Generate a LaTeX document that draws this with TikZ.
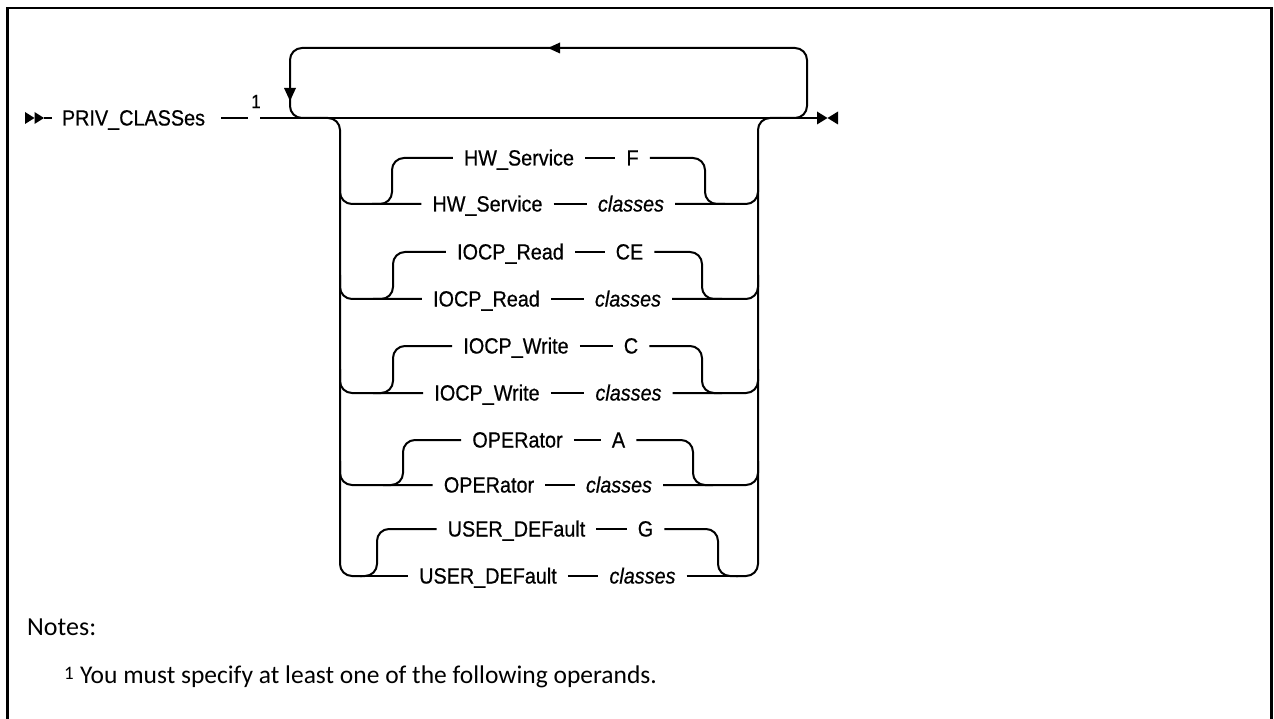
\documentclass[tikz,border=0pt]{standalone}
\usepackage{fontspec}
\setmainfont{Liberation Sans}
\newfontfamily\diagfont[FakeStretch=0.9,FakeBold=0.6]{Liberation Sans}
\newfontfamily\notefont{Carlito}
\begin{document}
\begin{tikzpicture}[x=1pt,y=-1pt,
  ln/.style={line width=2pt},
  rr/.style={line width=2pt, rounded corners=12pt},
  kw/.style={inner xsep=11pt, inner ysep=0pt, text height=15pt, text depth=0pt, font=\diagfont\fontsize{22}{26}\selectfont},
  val/.style={kw, font=\diagfont\fontsize{22}{26}\selectfont\itshape},
  frame/.style={line width=2.5pt}]
\useasboundingbox (0,0) rectangle (1274,719);
% frame
\draw[frame] (7.5,719) -- (7.5,8) -- (1271.5,8) -- (1271.5,719);

% start
\coordinate (s0) at (25,118);
\coordinate (s1) at (34.5,118);
\coordinate (s2) at (44,118);
\fill (25,112) -- (s1) -- (25,124) -- cycle;
\fill (34.5,112) -- (s2) -- (34.5,124) -- cycle;
\node[kw, inner xsep=10pt] (priv) at (133.5,118) {PRIV\_CLASSes};
\draw[ln] (s2) -- (priv.west);
\coordinate (n1l) at (248,118);
\coordinate (n1r) at (260,118);
\node[font=\diagfont\fontsize{19}{21}\selectfont, inner sep=0pt] (one) at (256,101.5) {1};
\draw[ln] ([xshift=6pt]priv.east) -- (n1l);
\coordinate (endm) at (817,118);
\draw[ln] (n1r) -- (endm);
% end marker
\coordinate (emid) at (827.5,118);
\fill (817,111.5) -- (emid) -- (817,124.5) -- cycle;
\fill (838,111.5) -- (emid) -- (838,124.5) -- cycle;

% repeat loop
\coordinate (lpr) at (780,118);
\coordinate (lpl) at (320,118);
\draw[rr] (lpr) -- (807,118) -- (807,48) -- (290,48) -- (290,118) -- (lpl);
\fill (548,48) -- (560,42.5) -- (560,53.5) -- cycle;
\fill (290,101) -- (284,88) -- (296,88) -- cycle;

% choice verticals
\coordinate (cl) at (320,118);
\coordinate (cr) at (780,118);
\draw[rr] (cl) -- (340,118) -- (340,576) -- (362,576);
\draw[rr] (736,576) -- (758,576) -- (758,118) -- (cr);

% ---- HW_Service ----
\node[kw]  (hwtk) at (519,158)   {HW\_Service};
\node[kw]  (hwtv) at (632.5,158) {F};
\node[kw]  (hwbk) at (487.5,204) {HW\_Service};
\node[val] (hwbv) at (631,204)   {classes};
\draw[rr] (340,180) -- (340,204) -- (hwbk.west);
\draw[ln] (hwbk.east) -- (hwbv.west);
\draw[rr] (hwbv.east) -- (758,204) -- (758,180);
\draw[rr] (372,204) -- (392,204) -- (392,158) -- (hwtk.west);
\draw[ln] (hwtk.east) -- (hwtv.west);
\draw[rr] (hwtv.east) -- (705,158) -- (705,204) -- (725,204);

% ---- IOCP_Read ----
\node[kw]  (irtk) at (510.5,252) {IOCP\_Read};
\node[kw]  (irtv) at (629.5,252) {CE};
\node[kw]  (irbk) at (486.5,299) {IOCP\_Read};
\node[val] (irbv) at (628,299)   {classes};
\draw[rr] (340,275) -- (340,299) -- (irbk.west);
\draw[ln] (irbk.east) -- (irbv.west);
\draw[rr] (irbv.east) -- (758,299) -- (758,275);
\draw[rr] (373,299) -- (393,299) -- (393,252) -- (irtk.west);
\draw[ln] (irtk.east) -- (irtv.west);
\draw[rr] (irtv.east) -- (702,252) -- (702,299) -- (722,299);

% ---- IOCP_Write ----
\node[kw]  (iwtk) at (516,346)   {IOCP\_Write};
\node[kw]  (iwtv) at (631,346)   {C};
\node[kw]  (iwbk) at (487,393)   {IOCP\_Write};
\node[val] (iwbv) at (628.5,393) {classes};
\draw[rr] (340,369) -- (340,393) -- (iwbk.west);
\draw[ln] (iwbk.east) -- (iwbv.west);
\draw[rr] (iwbv.east) -- (758,393) -- (758,369);
\draw[rr] (373,393) -- (393,393) -- (393,346) -- (iwtk.west);
\draw[ln] (iwtk.east) -- (iwtv.west);
\draw[rr] (iwtv.east) -- (702,346) -- (702,393) -- (722,393);

% ---- OPERator ----
\node[kw]  (optk) at (517.5,440) {OPERator};
\node[kw]  (optv) at (618.5,440) {A};
\node[kw]  (opbk) at (489,485)   {OPERator};
\node[val] (opbv) at (619,485)   {classes};
\draw[rr] (340,461) -- (340,485) -- (opbk.west);
\draw[ln] (opbk.east) -- (opbv.west);
\draw[rr] (opbv.east) -- (758,485) -- (758,461);
\draw[rr] (383,485) -- (403,485) -- (403,440) -- (optk.west);
\draw[ln] (optk.east) -- (optv.west);
\draw[rr] (optv.east) -- (693,440) -- (693,485) -- (713,485);

% ---- USER_DEFault ----
\node[kw]  (ustk) at (516.5,529) {USER\_DEFault};
\node[kw]  (ustv) at (645.5,529) {G};
\node[kw]  (usbk) at (488,576)   {USER\_DEFault};
\node[val] (usbv) at (642.5,576) {classes};
\draw[ln] (362,576) -- (usbk.west);
\draw[ln] (usbk.east) -- (usbv.west);
\draw[ln] (usbv.east) -- (736,576);
\draw[rr] (360,576) -- (377,576) -- (377,529) -- (ustk.west);
\draw[ln] (ustk.east) -- (ustv.west);
\draw[rr] (ustv.east) -- (718,529) -- (718,576) -- (738,576);

% notes
\node[anchor=base west, inner sep=0pt, font=\notefont\fontsize{26}{30}\selectfont] (notes) at (27,635) {Notes:};
\node[anchor=base west, inner sep=0pt, font=\notefont\fontsize{19}{22}\selectfont] (fn1) at (64,679) {1};
\node[anchor=base west, inner sep=0pt, font=\notefont\fontsize{25.5}{30}\selectfont] (fntext) at (80,683) {You must specify at least one of the following operands.};
\end{tikzpicture}
\end{document}
